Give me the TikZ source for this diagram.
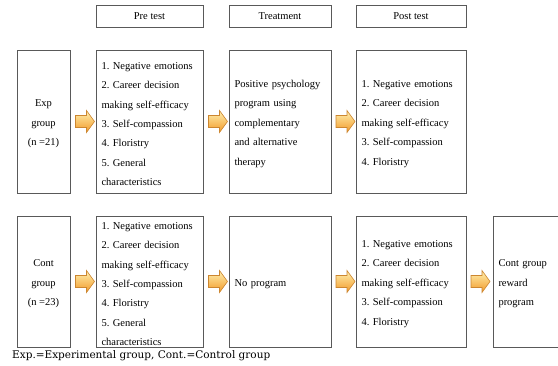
\documentclass[tikz,border=0pt]{standalone}
\usepackage{fontspec}
\setmainfont{Liberation Serif}
\newfontfamily\capfont{DejaVu Serif}
\usetikzlibrary{calc}
\definecolor{arrowlight}{HTML}{FFF0B0}
\definecolor{arrowdark}{HTML}{F29A28}
\definecolor{arrowedge}{HTML}{CC8630}
\newcommand\tstrut{\rule{0pt}{12pt}}
\hyphenpenalty=10000\relax
\frenchspacing
\tikzset{
  blkarrow/.pic={\path[draw=arrowedge, line width=0.6pt, top color=arrowlight, bottom color=arrowdark]
    (-9.5,-6) -- (1.5,-6) -- (1.5,-11) -- (9.5,0) -- (1.5,11) -- (1.5,6) -- (-9.5,6) -- cycle;},
  bx/.style={draw=black!65, line width=0.7pt, inner xsep=5.5pt, inner ysep=0pt,
    font=\fontsize{10.5}{19.4}\selectfont},
  hd/.style={bx, minimum height=22pt, align=center},
  rowone/.style={bx, minimum height=143pt},
  rowtwo/.style={bx, minimum height=131pt},
  lt/.style={align=left, text width=#1},
  grp/.style={minimum width=53pt, align=center},
}
\begin{document}
\begin{tikzpicture}[x=1pt,y=-1pt]
\useasboundingbox (0,0) rectangle (558,365);
% headers
\node[hd, minimum width=107pt] (hpre) at (149.5,16) {Pre test};
\node[hd, minimum width=102pt] (htrt) at (280,16) {Treatment};
\node[hd, minimum width=110pt] (hpost) at (411,16) {Post test};
% row 1
\node[rowone, grp] (exp) at (43.5,121.5) {\tstrut Exp\\group\\(n =21)};
\node[rowone, lt=96pt] (pre1) at (149.5,121.5) {\tstrut 1. Negative emotions\\2. Career decision\\making self-efficacy\\3. Self-compassion\\4. Floristry\\5. General\\characteristics};
\node[rowone, lt=91pt] (trt1) at (280,121.5) {\tstrut Positive psychology\\program using\\complementary\\and alternative\\therapy};
\node[rowone, lt=99pt] (post1) at (411,121.5) {\tstrut 1. Negative emotions\\2. Career decision\\making self-efficacy\\3. Self-compassion\\4. Floristry};
% row 2
\node[rowtwo, grp] (cont) at (43.5,281.5) {\tstrut Cont\\group\\(n =23)};
\node[rowtwo, lt=96pt] (pre2) at (149.5,281.5) {\tstrut 1. Negative emotions\\2. Career decision\\making self-efficacy\\3. Self-compassion\\4. Floristry\\5. General\\characteristics};
\node[rowtwo, lt=91pt] (trt2) at (280,281.5) {\tstrut No program};
\node[rowtwo, lt=99pt] (post2) at (411,281.5) {\tstrut 1. Negative emotions\\2. Career decision\\making self-efficacy\\3. Self-compassion\\4. Floristry};
\begin{scope}
\clip (0,0) rectangle (558,365);
\node[rowtwo, lt=69pt] (reward) at (533,281.5) {\tstrut Cont group\\reward\\program};
\end{scope}
% arrows
\pic (a1) at ($(exp.east)!0.5!(pre1.west)+(2,0)$) {blkarrow};
\pic (a2) at ($(pre1.east)!0.5!(trt1.west)+(2,0)$) {blkarrow};
\pic (a3) at ($(trt1.east)!0.5!(post1.west)+(2,0)$) {blkarrow};
\pic (a4) at ($(cont.east)!0.5!(pre2.west)+(2,0)$) {blkarrow};
\pic (a5) at ($(pre2.east)!0.5!(trt2.west)+(2,0)$) {blkarrow};
\pic (a6) at ($(trt2.east)!0.5!(post2.west)+(2,0)$) {blkarrow};
\pic (a7) at ($(post2.east)!0.5!(reward.west)+(1,0)$) {blkarrow};
% caption
\node[anchor=west, inner sep=0pt, font=\capfont\fontsize{10.5}{12}\selectfont] (cap) at (12,355.5) {Exp.=Experimental group, Cont.=Control group};
\end{tikzpicture}
\end{document}
